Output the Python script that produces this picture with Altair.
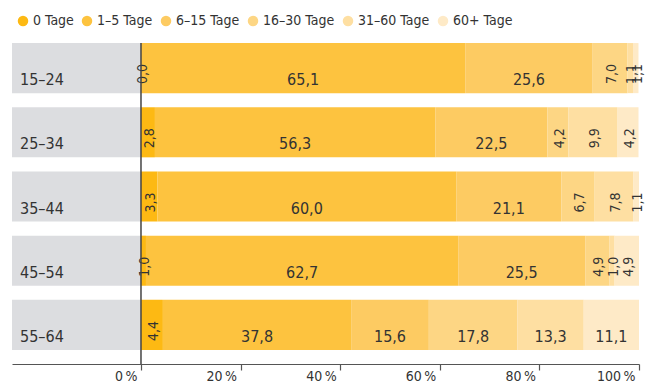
import altair as alt
import pandas as pd

ages = ["15–24", "25–34", "35–44", "45–54", "55–64"]
categories = ["0 Tage", "1–5 Tage", "6–15 Tage", "16–30 Tage", "31–60 Tage", "60+ Tage"]
colors = ["#FDB913", "#FDC33F", "#FDCB62", "#FDD684", "#FEDFA2", "#FEEAC7"]

values = {
    "15–24": [0.0, 65.1, 25.6, 7.0, 1.1, 1.1],
    "25–34": [2.8, 56.3, 22.5, 4.2, 9.9, 4.2],
    "35–44": [3.3, 60.0, 21.1, 6.7, 7.8, 1.1],
    "45–54": [1.0, 62.7, 25.5, 4.9, 1.0, 4.9],
    "55–64": [4.4, 37.8, 15.6, 17.8, 13.3, 11.1],
}

tick_values = [0, 20, 40, 60, 80, 100]
x_min = -25.9

rows = []
for age in ages:
    cum = 0.0
    for i, (cat, v) in enumerate(zip(categories, values[age])):
        rows.append({
            "age": age, "cat": cat, "order": i, "value": v,
            "x0": cum, "x1": cum + v, "mid": cum + v / 2,
            "label": f"{v:.1f}".replace(".", ","),
        })
        cum += v
df = pd.DataFrame(rows)
panel = pd.DataFrame({"age": ages, "x0": [x_min] * len(ages), "x1": [0] * len(ages)})

FONT = "DejaVu Sans Condensed, Roboto, sans-serif"
TXT = "#333333"

xscale = alt.Scale(domain=[x_min, 100], nice=False, zero=False)
yscale = alt.Scale(domain=ages, paddingInner=0.22, paddingOuter=0.11)

base_y = alt.Y("age:N", sort=ages, axis=None, scale=yscale)

grey = alt.Chart(panel).mark_bar(color="#DCDDE0").encode(
    x=alt.X("x0:Q", scale=xscale,
            axis=alt.Axis(values=tick_values, labelExpr="datum.value + '\u2009%'",
                          title=None, grid=False, offset=7, tickSize=6,
                          domainColor="#555555", tickColor="#555555",
                          labelAlign="right", labelBaseline="top", labelOffset=-4,
                          labelPadding=-1, labelFontSize=14, labelColor=TXT,
                          labelFont=FONT, domainWidth=1.2, tickWidth=1.2)),
    x2="x1:Q",
    y=base_y,
)

age_labels = alt.Chart(panel).mark_text(
    align="left", baseline="alphabetic", dx=8, dy=17, fontSize=16, font=FONT, color=TXT
).encode(x="x0:Q", y=base_y, text="age:N")

bars = alt.Chart(df).mark_bar().encode(
    x="x0:Q",
    x2="x1:Q",
    y=base_y,
    color=alt.Color("cat:N", scale=alt.Scale(domain=categories, range=colors),
                    sort=categories,
                    legend=alt.Legend(title=None, orient="none", legendX=4, legendY=-22,
                                      direction="horizontal", symbolType="circle",
                                      symbolSize=110, symbolStrokeWidth=0, labelOffset=3,
                                      columnPadding=6, labelFontSize=14, labelFont=FONT,
                                      labelColor=TXT)),
)

big = alt.Chart(df).transform_filter("datum.value >= 10").mark_text(
    align="center", baseline="alphabetic", dy=17, fontSize=16, font=FONT, color=TXT
).encode(x="mid:Q", y=base_y, text="label:N")

small = alt.Chart(df).transform_filter("datum.value < 10").mark_text(
    align="left", baseline="middle", angle=270, dx=-16, dy=2, fontSize=14, font=FONT, color=TXT
).encode(x="mid:Q", y=base_y, text="label:N")

zero = alt.Chart(pd.DataFrame({"x": [0]})).mark_rule(color="#444444", strokeWidth=1.5).encode(
    x="x:Q", y=alt.value(7), y2=alt.value(328)
)

chart = alt.layer(grey, age_labels, bars, big, small, zero).properties(
    width=627, height=321,
    autosize=alt.AutoSizeParams(type="none"),
    padding={"left": 4, "top": 28, "right": 10, "bottom": 40},
).configure_view(stroke=None)

chart.save("out.html", embed_options={"renderer": "svg", "actions": False})
